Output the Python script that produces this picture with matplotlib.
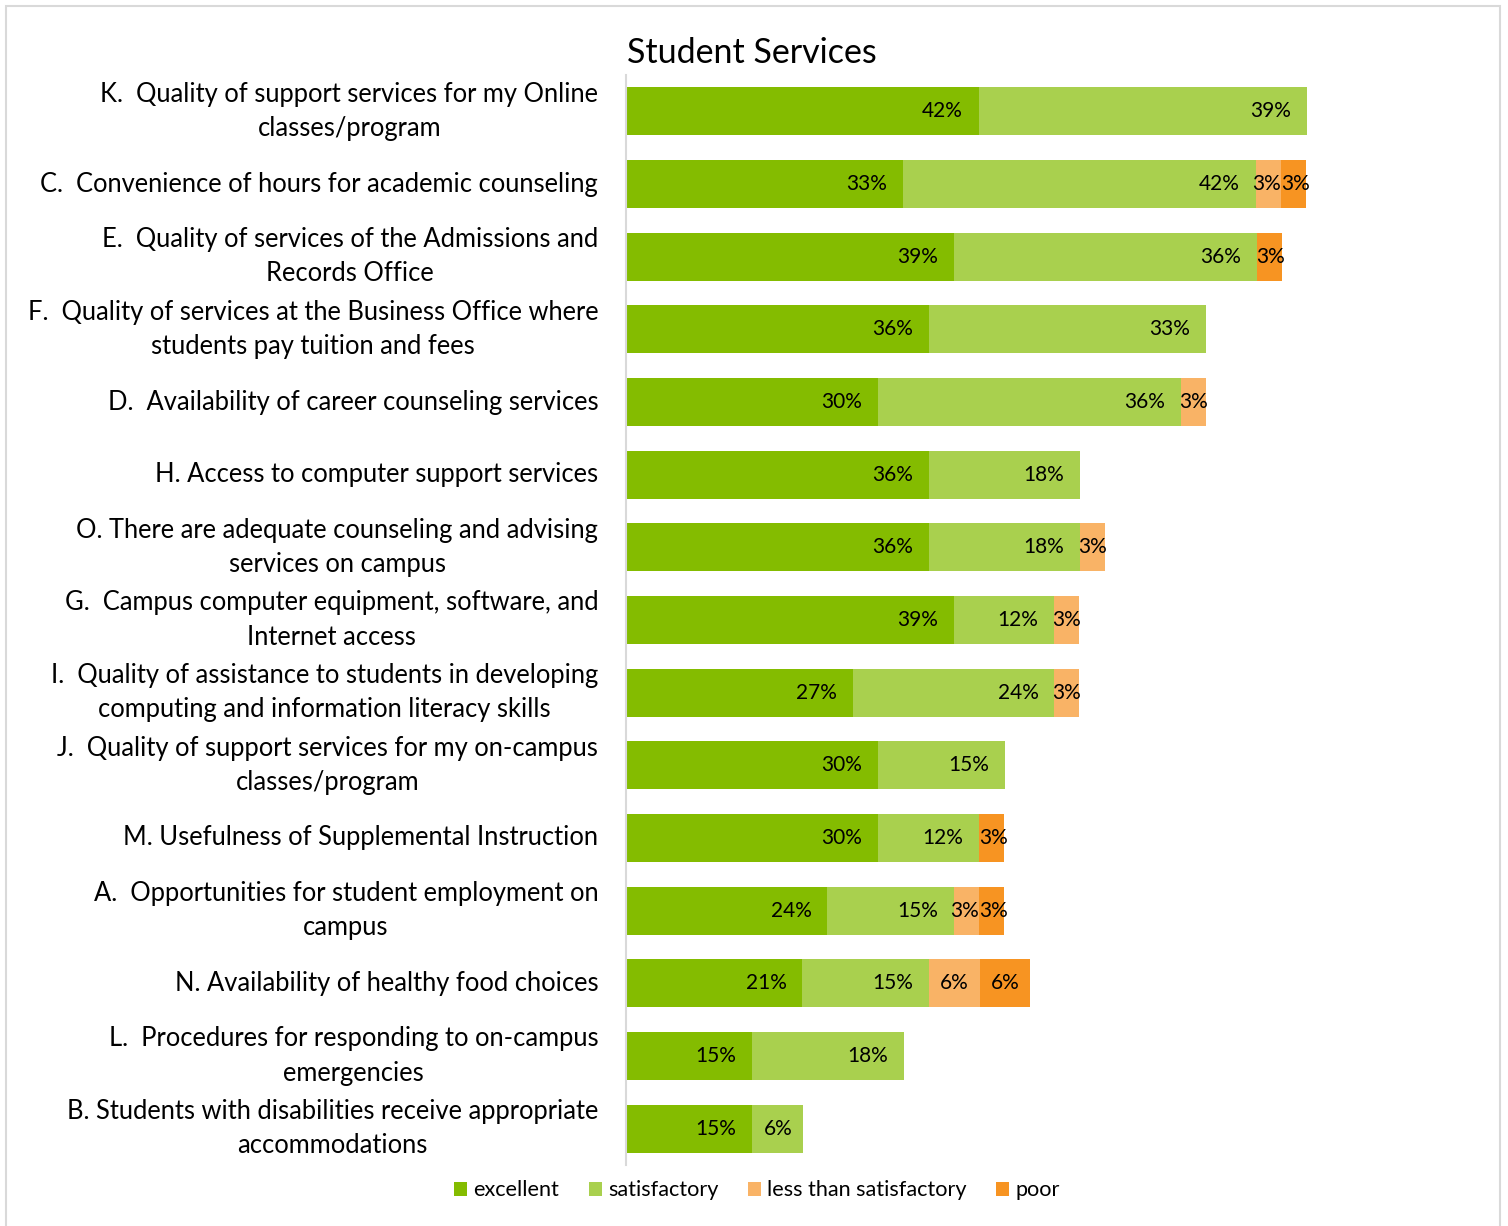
import matplotlib.pyplot as plt
from matplotlib.patches import Rectangle

plt.rcParams['font.family'] = ['Lato', 'DejaVu Sans']

# questions, top to bottom
questions = [
    "K.  Quality of support services for my Online\nclasses/program",
    "C.  Convenience of hours for academic counseling",
    "E.  Quality of services of the Admissions and\nRecords Office",
    "F.  Quality of services at the Business Office where\nstudents pay tuition and fees",
    "D.  Availability of career counseling services",
    "H. Access to computer support services",
    "O. There are adequate counseling and advising\nservices on campus",
    "G.  Campus computer equipment, software, and\nInternet access",
    "I.  Quality of assistance to students in developing\ncomputing and information literacy skills",
    "J.  Quality of support services for my on-campus\nclasses/program",
    "M. Usefulness of Supplemental Instruction",
    "A.  Opportunities for student employment on\ncampus",
    "N. Availability of healthy food choices",
    "L.  Procedures for responding to on-campus\nemergencies",
    "B. Students with disabilities receive appropriate\naccommodations",
]

# percent of respondents
excellent = [42.4, 33.3, 39.4, 36.4, 30.3, 36.4, 36.4, 39.4, 27.3, 30.3, 30.3, 24.2, 21.2, 15.2, 15.2]
satisfactory = [39.4, 42.4, 36.4, 33.3, 36.4, 18.2, 18.2, 12.1, 24.2, 15.2, 12.1, 15.2, 15.2, 18.2, 6.1]
less_than = [0, 3.0, 0, 0, 3.0, 0, 3.0, 3.0, 3.0, 0, 0, 3.0, 6.1, 0, 0]
poor = [0, 3.0, 3.0, 0, 0, 0, 0, 0, 0, 0, 3.0, 3.0, 6.1, 0, 0]

series = [excellent, satisfactory, less_than, poor]
names = ["excellent", "satisfactory", "less than satisfactory", "poor"]
colors = ["#84BC00", "#A9D04E", "#F9B366", "#F79422"]

fig = plt.figure(figsize=(15.08, 12.26), dpi=100)
ax = fig.add_axes([0.4151, 0.0498, 0.5517, 0.889])

y = list(range(len(questions)))
left = [0.0] * len(questions)
for k, (vals, name, col) in enumerate(zip(series, names, colors)):
    ax.barh(y, vals, left=left, height=0.66, color=col, label=name)
    for i, v in enumerate(vals):
        if v <= 0:
            continue
        txt = "%.0f%%" % v
        nxt = series[k + 1][i] if k + 1 < len(series) else 0
        prv = series[k - 1][i] if k > 0 else 99
        if v >= 10:
            ax.text(left[i] + v - 1.9, i, txt, ha='right', va='center', fontsize=15)
        elif 0 < nxt < 5:
            ax.text(left[i] + v, i, txt, ha='right', va='center', fontsize=15)
        elif prv < 5:
            ax.text(left[i], i, txt, ha='left', va='center', fontsize=15)
        else:
            ax.text(left[i] + v / 2, i, txt, ha='center', va='center', fontsize=15)
    left = [l + v for l, v in zip(left, vals)]

ax.set_xlim(0, 100)
ax.set_ylim(len(questions) - 0.5, -0.5)
ax.set_yticks(y)
ax.set_yticklabels(questions, fontsize=18.4, multialignment='center',
                   linespacing=1.46, va='center')
ax.tick_params(axis='y', length=0, pad=20)
ax.set_xticks([])
for s in ['top', 'right', 'bottom']:
    ax.spines[s].set_visible(False)
ax.spines['left'].set_color('#D9D9D9')
ax.spines['left'].set_linewidth(1.5)

fig.text(0.4158, 0.957, "Student Services", fontsize=24.5, ha='left', va='center')

fig.legend(loc='center', bbox_to_anchor=(0.502, 0.029), ncol=4, frameon=False,
           fontsize=15.6, handlelength=0.6, handleheight=0.6, handletextpad=0.3,
           columnspacing=1.35)

fig.patches.append(Rectangle((0.004, -0.01), 0.991, 1.005, transform=fig.transFigure,
                             fill=False, edgecolor='#D9D9D9', linewidth=1.5))

fig.savefig("out.png", dpi=100)
